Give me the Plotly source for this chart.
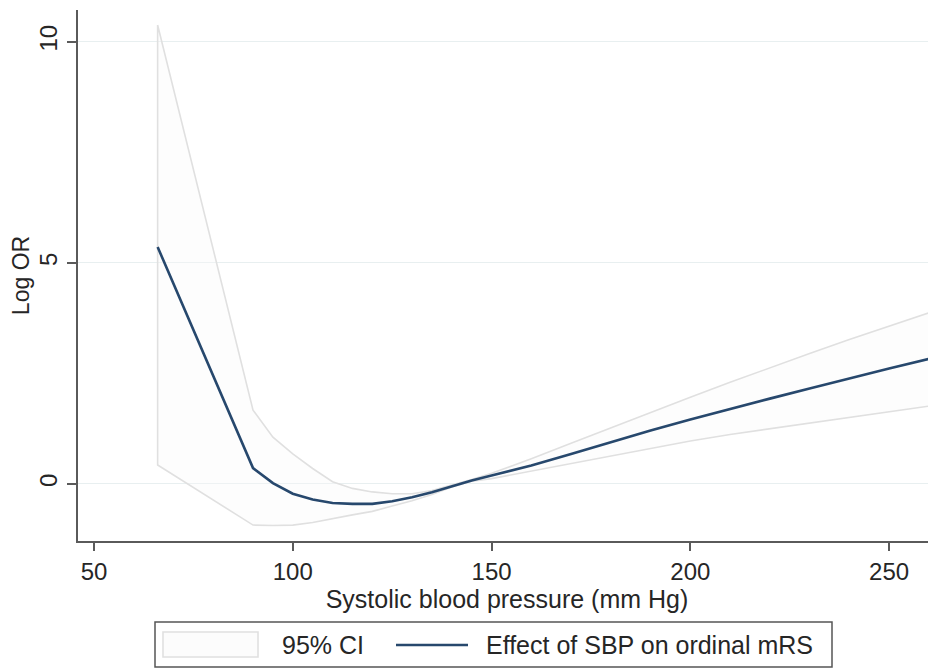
import plotly.graph_objects as go

# ---- data ----
sbp = [66, 70, 75, 80, 85, 90, 95, 100, 105, 110, 115, 120, 125, 130, 135, 140, 145,
       150, 160, 170, 180, 190, 200, 210, 220, 230, 240, 250, 260]
effect = [5.36, 4.53, 3.49, 2.44, 1.40, 0.36, 0.02, -0.22, -0.35, -0.43, -0.45, -0.45,
          -0.39, -0.30, -0.19, -0.05, 0.08, 0.19, 0.42, 0.68, 0.95, 1.21, 1.46, 1.70,
          1.93, 2.16, 2.39, 2.61, 2.83]
ci_upper = [10.38, 8.93, 7.11, 5.30, 3.48, 1.67, 1.06, 0.68, 0.35, 0.05, -0.10, -0.18,
            -0.22, -0.22, -0.15, -0.03, 0.10, 0.24, 0.57, 0.92, 1.27, 1.62, 1.96, 2.30,
            2.63, 2.95, 3.27, 3.57, 3.87]
ci_lower = [0.43, 0.20, -0.08, -0.37, -0.65, -0.93, -0.94, -0.93, -0.87, -0.78, -0.70,
            -0.62, -0.50, -0.38, -0.24, -0.07, 0.06, 0.12, 0.28, 0.45, 0.62, 0.80, 0.97,
            1.12, 1.25, 1.38, 1.51, 1.63, 1.76]
x_ticks = [50, 100, 150, 200, 250]
y_ticks = [0, 5, 10]
legend_labels = ["95% CI", "Effect of SBP on ordinal mRS"]

FONT = "Liberation Sans, Arial, sans-serif"
TXT = "#262626"
CI_LINE = "#e0e0e0"
CI_FILL = "rgba(250,250,250,0.35)"
MAIN = "#27486d"

# page body has an 8px margin -> compensate so the plot lands where the reference has it
OFF = 8
W, H = 936, 669
L, R, T, B = 78 - OFF, OFF, 10 - OFF, 669 - 541 + OFF

fig = go.Figure()

# CI band as closed polygon (upper forward, lower backward)
band_x = sbp + sbp[::-1] + [sbp[0]]
band_y = ci_upper + ci_lower[::-1] + [ci_upper[0]]
fig.add_trace(go.Scatter(x=band_x, y=band_y, mode="lines", fill="toself",
                         fillcolor=CI_FILL, line=dict(color=CI_LINE, width=1.6),
                         name=legend_labels[0], showlegend=False, hoverinfo="skip"))
fig.add_trace(go.Scatter(x=sbp, y=effect, mode="lines",
                         line=dict(color=MAIN, width=2.6),
                         name=legend_labels[1], showlegend=False))

fig.update_layout(
    width=W, height=H,
    margin=dict(l=L, r=R, t=T, b=B, pad=0, autoexpand=False),
    paper_bgcolor="white", plot_bgcolor="white",
    font=dict(family=FONT, size=23, color=TXT),
    xaxis=dict(range=[45.97, 261.8], tickvals=x_ticks, showgrid=False, zeroline=False,
               automargin=False,
               showline=True, linecolor="#5a5a5a", linewidth=2,
               ticks="outside", ticklen=8, tickwidth=1.5, tickcolor="#5a5a5a",
               tickfont=dict(size=24, color=TXT),
               title=dict(text="Systolic blood pressure (mm Hg)", standoff=0,
                          font=dict(size=25, color=TXT))),
    yaxis=dict(range=[-1.29, 10.72], tickvals=y_ticks, tickangle=-90,
               automargin=False,
               showgrid=True, gridcolor="#e8eff0", gridwidth=1.2, zeroline=False,
               showline=True, linecolor="#5a5a5a", linewidth=2,
               ticks="outside", ticklen=9, tickwidth=1.5, tickcolor="#5a5a5a",
               tickfont=dict(size=24, color=TXT),
               title=dict(text="Log OR", standoff=1, font=dict(size=23, color=TXT))),
)

# ---- manual legend (Stata-style wide key); positions given in screen pixels ----
pw, ph = W - L - R, H - T - B
def px(xs):
    return (xs - OFF - L) / pw
def py(ys):
    return (H - B - (ys - OFF)) / ph

fig.add_shape(type="rect", xref="paper", yref="paper",
              x0=px(155), x1=px(832), y0=py(667), y1=py(622),
              line=dict(color="#555555", width=1.5), fillcolor="white")
fig.add_shape(type="rect", xref="paper", yref="paper",
              x0=px(163), x1=px(258), y0=py(657), y1=py(632),
              line=dict(color=CI_LINE, width=1.6), fillcolor="#fcfcfc")
fig.add_shape(type="line", xref="paper", yref="paper",
              x0=px(396), x1=px(468), y0=py(645), y1=py(645),
              line=dict(color=MAIN, width=2.6))
fig.add_annotation(text=legend_labels[0], xref="paper", yref="paper",
                   x=px(280), y=py(645), xanchor="left", yanchor="middle",
                   showarrow=False, font=dict(size=25, color=TXT))
fig.add_annotation(text=legend_labels[1], xref="paper", yref="paper",
                   x=px(484), y=py(645), xanchor="left", yanchor="middle",
                   showarrow=False, font=dict(size=25, color=TXT))

fig.write_html("out.html")
